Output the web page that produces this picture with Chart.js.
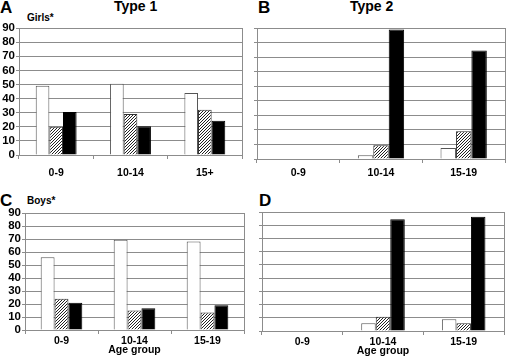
<!DOCTYPE html>
<html>
<head>
<meta charset="utf-8">
<script src="https://cdn.jsdelivr.net/npm/chart.js@4/dist/chart.umd.min.js"></script>
<style>
  html, body { margin: 0; padding: 0; background: #fff; }
  #wrap { position: relative; width: 512px; height: 356px; overflow: hidden; font-family: "Liberation Sans", Arial, sans-serif; font-weight: bold; color: #000; }
  canvas { position: absolute; }
  .t { position: absolute; white-space: nowrap; line-height: 1; }
  .letter { font-size: 17px; }
  .type { font-size: 14px; }
  .sex { font-size: 10px; }
</style>
</head>
<body>
<div id="wrap">
  <div class="t letter" style="left:0px;top:-1px;">A</div>
  <div class="t type" style="left:114px;top:-1px;">Type 1</div>
  <div class="t sex" style="left:27px;top:13px;">Girls*</div>
  <div class="t letter" style="left:258px;top:-1px;">B</div>
  <div class="t type" style="left:350px;top:-1px;">Type 2</div>
  <div class="t letter" style="left:0px;top:192px;">C</div>
  <div class="t sex" style="left:27px;top:196px;">Boys*</div>
  <div class="t letter" style="left:259px;top:192px;">D</div>

  <canvas id="cA" width="252" height="168" style="left:0px;top:20px;"></canvas>
  <canvas id="cB" width="260" height="168" style="left:252px;top:20px;"></canvas>
  <canvas id="cC" width="252" height="156" style="left:0px;top:200px;"></canvas>
  <canvas id="cD" width="260" height="156" style="left:252px;top:200px;"></canvas>
</div>
<script>
// ---- data ----
const girlsType1Labels = ['0-9', '10-14', '15+'];
const girlsType2Labels = ['0-9', '10-14', '15-19'];
const boysLabels = ['0-9', ['10-14', 'Age group'], '15-19'];

const girlsType1White = [49, 50.5, 44];
const girlsType1Hatched = [20, 29, 32];
const girlsType1Black = [30.5, 20.3, 24.3];

const girlsType2White = [0, 2.5, 7.5];
const girlsType2Hatched = [0, 9.5, 19];
const girlsType2Black = [0, 89, 74.5];

const boysType1White = [56, 69.5, 68];
const boysType1Hatched = [24, 15, 13.5];
const boysType1Black = [21, 16.8, 19];

const boysType2White = [0, 5.8, 8.8];
const boysType2Hatched = [0, 10.8, 5.8];
const boysType2Black = [0, 84.5, 86.5];

const yTicks = [0, 10, 20, 30, 40, 50, 60, 70, 80, 90];

// ---- styles ----
const FONT = '"Liberation Sans", Arial, sans-serif';
const GRID = '#8c8c8c';

function hatchPattern() {
  const c = document.createElement('canvas');
  c.width = 3; c.height = 3;
  const x = c.getContext('2d');
  x.fillStyle = '#ffffff';
  x.fillRect(0, 0, 3, 3);
  x.fillStyle = '#222';
  x.fillRect(2, 0, 1, 1);
  x.fillRect(1, 1, 1, 1);
  x.fillRect(0, 2, 1, 1);
  return x.createPattern(c, 'repeat');
}
const HATCH = hatchPattern();

const frameRight = {
  id: 'frameRight',
  afterDraw(chart) {
    const a = chart.chartArea, ctx = chart.ctx;
    ctx.save();
    ctx.strokeStyle = GRID;
    ctx.lineWidth = 1;
    ctx.beginPath();
    ctx.moveTo(Math.round(a.right) + 0.5, a.top);
    ctx.lineTo(Math.round(a.right) + 0.5, a.bottom);
    ctx.stroke();
    ctx.restore();
  }
};

function makeChart(id, labels, white, hatched, black, opt) {
  new Chart(document.getElementById(id), {
    type: 'bar',
    data: {
      labels: labels,
      datasets: [
        { data: white, backgroundColor: '#ffffff', borderColor: '#555', borderWidth: 1 },
        { data: hatched, backgroundColor: HATCH, borderColor: '#333', borderWidth: 1 },
        { data: black, backgroundColor: '#000000', borderColor: '#000', borderWidth: 1 }
      ]
    },
    options: {
      responsive: false,
      animation: false,
      events: [],
      layout: { autoPadding: false, padding: { top: opt.padTop, right: opt.padRight, left: 0, bottom: 0 } },
      datasets: { bar: { barPercentage: 1, categoryPercentage: opt.cat } },
      plugins: { legend: { display: false }, tooltip: { enabled: false }, title: { display: false } },
      scales: {
        x: {
          grid: { display: true, drawOnChartArea: false, drawTicks: true, tickLength: 4, color: GRID, offset: true },
          border: { display: true, color: GRID },
          ticks: { color: '#000', font: { family: FONT, size: 10.5, weight: 'bold', lineHeight: 0.85 }, padding: opt.xPad, maxRotation: 0, autoSkip: false },
          afterFit(s) { s.height = opt.xH; }
        },
        y: {
          min: 0, max: 90,
          afterBuildTicks(s) { s.ticks = yTicks.map(v => ({ value: v })); },
          grid: { color: GRID, tickLength: 3, drawTicks: true },
          border: { display: true, color: GRID },
          ticks: { display: opt.yLabels, autoSkip: false, color: '#000', font: { family: FONT, size: 11.5, weight: 'bold' }, padding: 1 },
          afterFit(s) { s.width = opt.yW; }
        }
      }
    },
    plugins: [frameRight]
  });
}

makeChart('cA', girlsType1Labels, girlsType1White, girlsType1Hatched, girlsType1Black,
  { padTop: 8, padRight: 10, xH: 33, xPad: 10, yW: 19, yLabels: true, cat: 0.55 });
makeChart('cB', girlsType2Labels, girlsType2White, girlsType2Hatched, girlsType2Black,
  { padTop: 8, padRight: 7, xH: 29, xPad: 6, yW: 5, yLabels: false, cat: 0.56 });
makeChart('cC', boysLabels, boysType1White, boysType1Hatched, boysType1Black,
  { padTop: 13, padRight: 8, xH: 26, xPad: 3, yW: 25, yLabels: true, cat: 0.57 });
makeChart('cD', boysLabels, boysType2White, boysType2Hatched, boysType2Black,
  { padTop: 12, padRight: 8, xH: 25, xPad: 3, yW: 10, yLabels: false, cat: 0.54 });
</script>
</body>
</html>
